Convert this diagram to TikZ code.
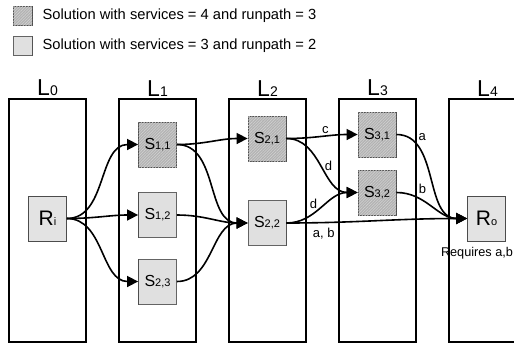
\documentclass[tikz,border=0pt]{standalone}
\usepackage{fontspec}
\setmainfont{Liberation Sans}
\usetikzlibrary{arrows.meta,patterns.meta,positioning}

\newcommand{\svcname}[1]{{\fontsize{16}{16}\selectfont S}{\fontsize{11}{11}\selectfont #1}}
\newcommand{\reqname}[1]{{\fontsize{21}{22}\selectfont R}{\fontsize{11}{12}\selectfont #1}}
\newcommand{\layname}[1]{{\fontsize{23}{24}\selectfont L}{\fontsize{14}{15}\selectfont #1}}

\tikzset{
    layer/.style={draw, line width=1.5pt, minimum width=77pt, minimum height=243pt, inner sep=0pt},
    svc/.style={draw=black!70, line width=0.8pt, minimum width=38pt, minimum height=45pt, inner sep=0pt},
    fullsvc/.style={svc, fill=black!30,
        postaction={pattern={Lines[angle=45,distance=2pt,line width=0.6pt]}, pattern color=black!18}},
    partsvc/.style={svc, fill=black!7,
        postaction={pattern={Dots[distance=2pt,radius=0.55pt]}, pattern color=black!28}},
    req/.style={svc, fill=black!11},
    flow/.style={line width=1.6pt, -{Triangle[length=11pt,width=11pt]}},
    tag/.style={font=\fontsize{13}{13}\selectfont, inner sep=1pt},
}

\begin{document}
\begin{tikzpicture}[x=1pt, y=-1pt]
    \clip (0,0) rectangle (514,343);

    % legend
    \node[fullsvc, minimum width=19pt, minimum height=19pt] (leg1) at (22.5,15.5) {};
    \node[partsvc, minimum width=19pt, minimum height=19pt] (leg2) at (22.5,45.5) {};
    \node[right=10pt of leg1, inner sep=0pt, font=\fontsize{14.7}{15}\selectfont] (legtxt1) {Solution with services = 4 and runpath = 3};
    \node[right=10pt of leg2, inner sep=0pt, font=\fontsize{14.7}{15}\selectfont] (legtxt2) {Solution with services = 3 and runpath = 2};

    % layers
    \foreach \i in {0,...,4} {
        \node[layer] (lay\i) at ({47.5+110*\i}, 220.5) {};
        \node[above=2pt of lay\i, inner sep=0pt] (layname\i) {\layname{\i}};
    }

    % services
    \node[req] (Ri) at (47.5,218.5) {\reqname{i}};
    \node[fullsvc] (S11) at (157.5,144.5) {\svcname{1,1}};
    \node[partsvc] (S12) at (157.5,215) {\svcname{1,2}};
    \node[partsvc] (S23) at (157.5,281.5) {\svcname{2,3}};
    \node[fullsvc] (S21) at (267,138.5) {\svcname{2,1}};
    \node[partsvc] (S22) at (267,223) {\svcname{2,2}};
    \node[fullsvc] (S31) at (377,134.5) {\svcname{3,1}};
    \node[fullsvc] (S32) at (377,192.5) {\svcname{3,2}};
    \node[req] (Ro) at (486.5,218.5) {\reqname{o}};
    \node[below=6pt of Ro, xshift=-9.5pt, inner sep=0pt, font=\fontsize{12.7}{13}\selectfont] (reqnote) {Requires a,b};

    \foreach \a/\b in {Ri/S11, Ri/S12, Ri/S23, S11/S21, S11/S22, S12/S22, S23/S22}
        \draw[flow] (\a.east) to[out=0, in=180] (\b.west);

    \draw[flow] (S21.east) to[out=0, in=180] node[tag, pos=.55, above=1pt] {c} (S31.west);
    \draw[flow] (S21.east) to[out=0, in=180] node[tag, pos=.5, right=1pt] {d} (S32.west);
    \draw[flow] (S22.east) to[out=0, in=180] node[tag, pos=.45, above left=0pt] {d} (S32.west);
    \draw[flow] (S22.east) to[out=0, in=180] node[tag, pos=.19, below=4pt] {a, b} (Ro.west);
    \draw[flow] (S31.east) to[out=0, in=180] node[tag, pos=.2, above right=1pt] {a} (Ro.west);
    \draw[flow] (S32.east) to[out=0, in=180] node[tag, pos=.25, above right=2pt] {b} (Ro.west);
\end{tikzpicture}
\end{document}
